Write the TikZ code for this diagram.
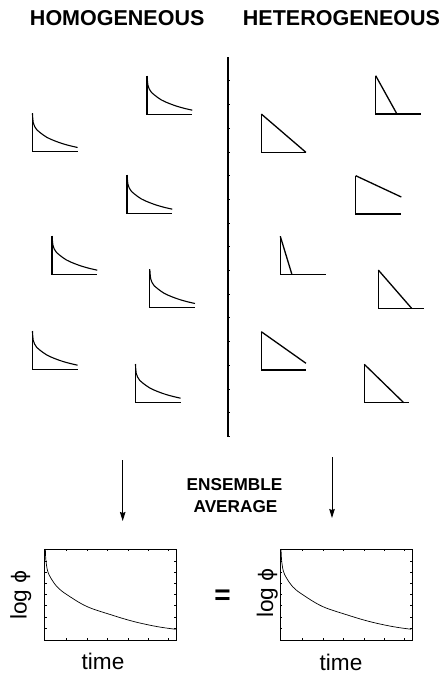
\documentclass[tikz,border=0pt]{standalone}
\usepackage{fontspec}
\setmainfont{Liberation Sans}
\newfontfamily\phifont{DejaVu Sans}
\usetikzlibrary{arrows.meta}
\tikzset{
  axisline/.style={line width=1.4pt, line cap=butt},
  decayline/.style={line width=1.1pt},
  triline/.style={line width=1.3pt, line join=miter},
  frameline/.style={line width=0.8pt},
  bigcurve/.style={line width=0.7pt},
  tickline/.style={line width=0.5pt},
  header/.style={font=\bfseries\fontsize{21.5}{24}\selectfont, anchor=base, inner sep=0pt},
  midlabel/.style={font=\bfseries\fontsize{17.2}{20}\selectfont, anchor=base, inner sep=0pt},
  axlabel/.style={font=\fontsize{22.6}{25}\selectfont, anchor=base, inner sep=0pt},
  downarrow/.style={line width=1pt, -{Stealth[length=9pt,width=5.5pt,inset=1pt]}},
}
\newcommand\decaycurve{plot[smooth, tension=0.6] coordinates {(0.004,0) (0.009,0.12) (0.02,0.24) (0.05,0.34) (0.1,0.43) (0.17,0.5) (0.32,0.625) (0.5,0.72) (0.68,0.795) (0.85,0.85) (1,0.89)}}
\newcommand\hplot[2]{%
  \begin{scope}[shift={(#1,#2)}, xscale=45.3, yscale=38.4]
    \draw[axisline] (0,0) -- (0,1) -- (1,1);
    \draw[decayline] \decaycurve;
  \end{scope}}
\newcommand\tplot[5]{%
  \draw[triline] (#1,#2) -- (#1,#2+38.4) -- (#5,#2+38.4);
  \draw[triline] (#1,#2) -- (#3,#4);}
\newcommand\bigplot[3]{%
  \begin{scope}[shift={(#1,#2)}, xscale=131.9, yscale=91]
    \draw[frameline] (0,0) rectangle (1,1);
    \foreach \tx in {0.17,0.325,0.48,0.635,0.79,0.94}{
      \draw[tickline] (\tx,0) -- ++(0,0.025);
      \draw[tickline] (\tx,1) -- ++(0,-0.025);}
    \foreach \ty in {0.14,0.256,0.377,0.498,0.623,0.75,0.87}{
      \draw[tickline] (1,\ty) -- ++(-0.017,0);
      \draw[tickline] (0,\ty) -- ++(0.017,0);}
    \draw[bigcurve] plot[smooth, tension=0.6] coordinates {(0.008,0) (0.012,0.12) (0.025,0.24) (0.05,0.32) (0.1,0.42) (0.17,0.5) (0.32,0.63) (0.5,0.72) (0.676,0.796) (0.853,0.852) (0.995,0.882)};
    \node (#3) at (0.5,0.5) {};
  \end{scope}}
\begin{document}
\begin{tikzpicture}[x=1pt, y=-1pt]
  \useasboundingbox (0,0) rectangle (444,675);
  % headers
  \node[header] (hom) at (117.2,25) {HOMOGENEOUS};
  \node[header] (het) at (341.5,25) {HETEROGENEOUS};
  % divider
  \coordinate (divtop) at (228,57);
  \coordinate (divbot) at (228,437);
  \draw[line width=1.2pt] (divtop) -- (divbot);
  \foreach \k in {1,...,16}{
    \draw[line width=0.6pt] (228,57+23.7*\k) -- ++(2.2,0);}
  % homogeneous decays
  \hplot{147}{76}
  \hplot{32.3}{113.3}
  \hplot{127}{175}
  \hplot{52}{236}
  \hplot{149.7}{269.3}
  \hplot{32.3}{331}
  \hplot{135.3}{364}
  % heterogeneous triangles
  \tplot{375.7}{75.7}{397}{114.1}{420.7}
  \tplot{261.3}{114}{306}{152.4}{306}
  \tplot{355.7}{175.7}{401.3}{197}{401.3}
  \tplot{280.3}{236.3}{292}{274.7}{325.7}
  \tplot{378.3}{270}{411.7}{308.4}{423.7}
  \tplot{261.3}{331.7}{306}{363.3}{306}
  \tplot{364.3}{364.3}{403.7}{402.7}{409.3}
  % arrows
  \coordinate (la1) at (122.7,460);
  \coordinate (la2) at (122.7,521);
  \coordinate (ra1) at (332,457);
  \coordinate (ra2) at (332,518);
  \draw[downarrow] (la1) -- (la2);
  \draw[downarrow] (ra1) -- (ra2);
  \node[midlabel] (ens) at (234.5,490.7) {ENSEMBLE};
  \node[midlabel] (avg) at (235.5,512.7) {AVERAGE};
  % big plots
  \bigplot{44.3}{549}{bigL}
  \bigplot{280}{549}{bigR}
  \node[axlabel, rotate=90] (ylL) at (26.7,595) {log {\phifont\fontsize{20}{22}\selectfont ϕ}};
  \node[axlabel, rotate=90] (ylR) at (273,593) {log {\phifont\fontsize{20}{22}\selectfont ϕ}};
  \node[axlabel] (xlL) at (103,669) {time};
  \node[axlabel] (xlR) at (341,670.5) {time};
  \node[font=\bfseries\fontsize{28}{30}\selectfont, inner sep=0pt] (eq) at (222.5,597.5) {=};
\end{tikzpicture}
\end{document}
